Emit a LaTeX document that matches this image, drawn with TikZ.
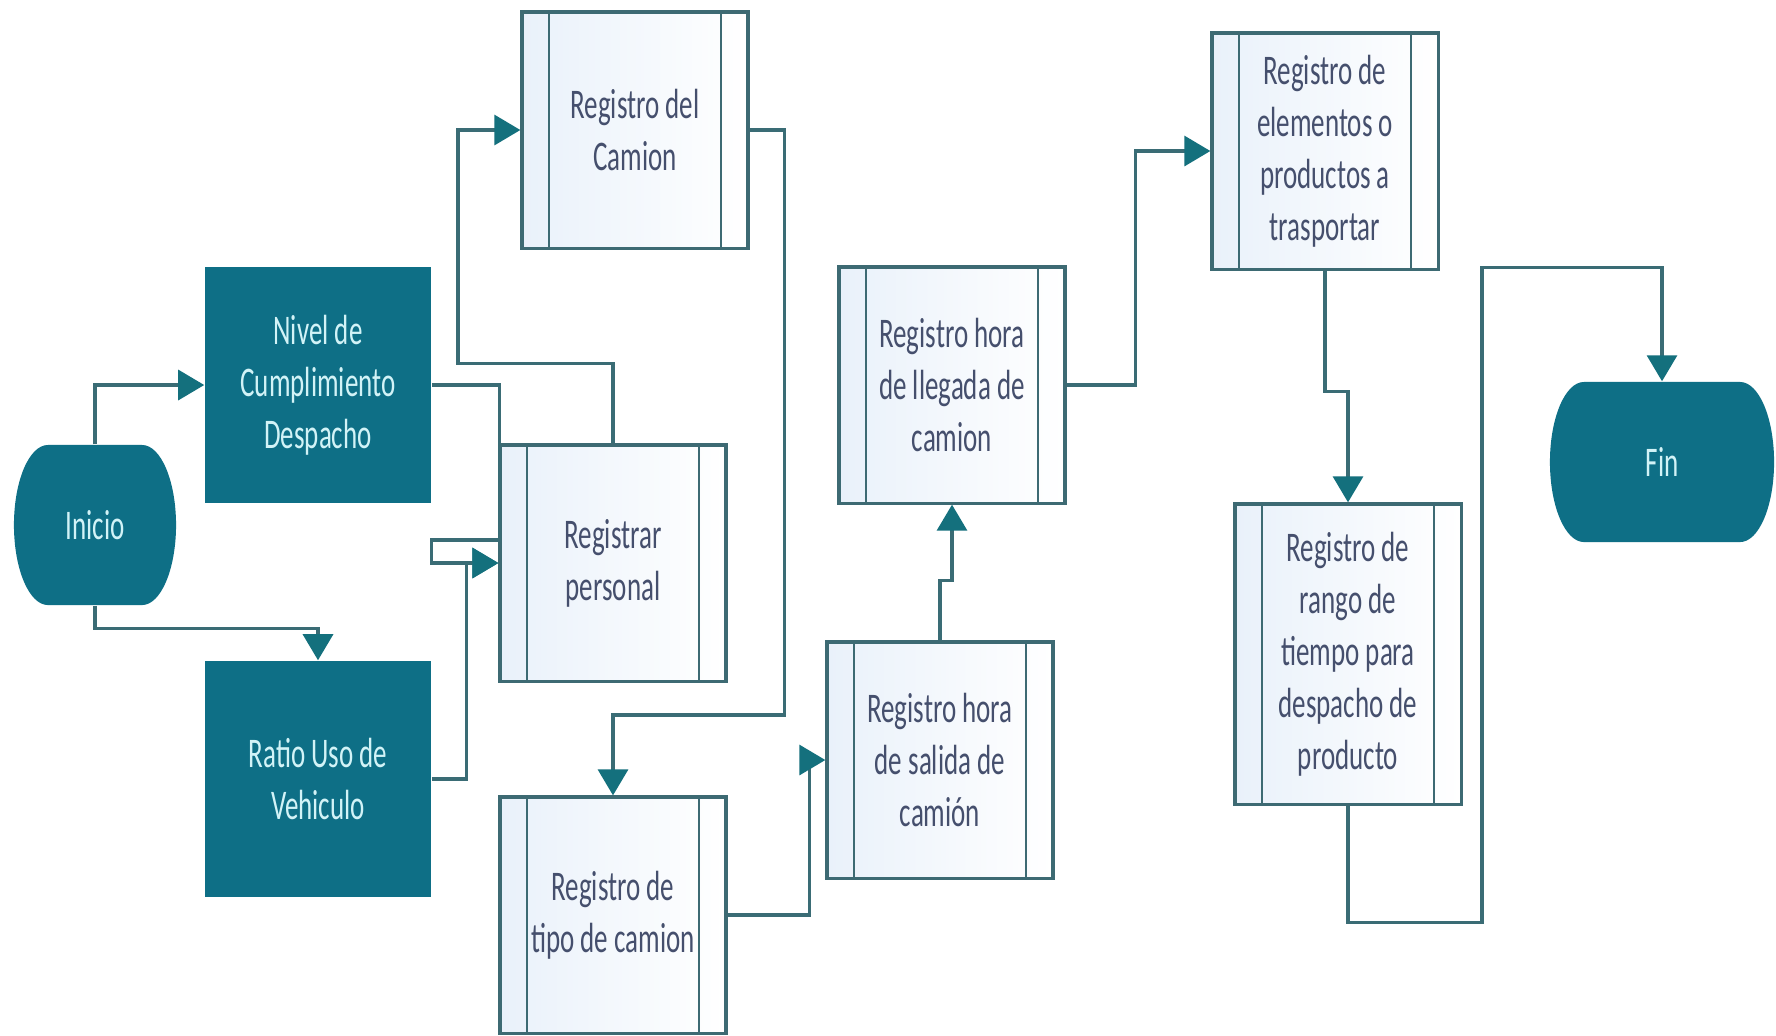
\documentclass[tikz,border=0pt]{standalone}
\usepackage{fontspec}
\setmainfont{Carlito}[FakeStretch=0.64]
\usepackage{xcolor}
\usetikzlibrary{arrows.meta, calc}

\definecolor{tealdark}{HTML}{0E6F86}
\definecolor{tealtext}{HTML}{D2F3F7}
\definecolor{procedge}{HTML}{3D6A73}
\definecolor{proctext}{HTML}{454F6D}
\definecolor{procleft}{HTML}{E9F1FA}
\definecolor{procright}{HTML}{FFFFFF}
\definecolor{linecol}{HTML}{3A6C75}
\definecolor{tipcol}{HTML}{14707D}

\begin{document}
\begin{tikzpicture}[
        x=0.01cm, y=-0.01cm,
        every node/.style={
            font=\fontsize{12}{14.8}\selectfont,
            align=center
        },
        proc/.style={
            draw=procedge,
            line width=0.9pt,
            left color=procleft,
            right color=procright,
            text=proctext,
            minimum width=2.26cm,
            minimum height=2.36cm,
            inner sep=0pt,
            path picture={
                \draw[procedge, line width=0.8pt]
                    ([xshift=0.27cm]path picture bounding box.north west)
                    -- ([xshift=0.27cm]path picture bounding box.south west);
                \draw[procedge, line width=0.8pt]
                    ([xshift=-0.27cm]path picture bounding box.north east)
                    -- ([xshift=-0.27cm]path picture bounding box.south east);
            }
        },
        indicator/.style={
            fill=tealdark,
            text=tealtext,
            minimum width=2.26cm,
            minimum height=2.36cm
        },
        terminal/.style={
            text=tealtext,
            minimum height=1.6cm,
            path picture={
                \fill[tealdark]
                    ([xshift=0.34cm]path picture bounding box.north west)
                    -- ([xshift=-0.34cm]path picture bounding box.north east)
                    arc[start angle=90, end angle=-90, x radius=0.34cm, y radius=0.8cm]
                    -- ([xshift=0.34cm]path picture bounding box.south west)
                    arc[start angle=270, end angle=90, x radius=0.34cm, y radius=0.8cm]
                    -- cycle;
            }
        },
        arrow/.style={
            -{Triangle[length=0.26cm, width=0.3cm, color=tipcol]},
            draw=linecol,
            line width=0.9pt
        }
    ]

    \fill[white] (0,0) rectangle (1776,1035);

    % Start and indicators
    \node[terminal, minimum width=1.62cm] (inicio) at (95,525) {Inicio};
    \node[indicator] (nivel) at (318,385) {Nivel de\\Cumplimiento\\Despacho};
    \node[indicator] (ratio) at (318,779) {Ratio Uso de\\Vehiculo};

    % Registration steps
    \node[proc] (camion) at (635,130) {Registro del\\Camion};
    \node[proc] (personal) at (613,563) {Registrar\\personal};
    \node[proc] (tipo) at (613,915) {Registro de\\tipo de camion};
    \node[proc] (salida) at (940,760) {Registro hora\\de salida de\\camión};
    \node[proc] (llegada) at (952,385) {Registro hora\\de llegada de\\camion};
    \node[proc] (elementos) at (1325,151) {Registro de\\elementos o\\productos a\\trasportar};
    \node[proc, minimum height=3.0cm] (rango) at (1348,654) {Registro de\\rango de\\tiempo para\\despacho de\\producto};

    % End
    \node[terminal, minimum width=2.24cm] (fin) at (1662,462) {Fin};

    % Connectors
    \draw[arrow] (inicio.north) |- (nivel.west);
    \draw[arrow] (inicio.south) -- ++(0,23) -| (ratio.north);
    \draw[arrow] (nivel.east) -- ++(68,0) -- ++(0,155) -- ++(-68,0) |- (personal.west);
    \draw[arrow] (ratio.east) -- ++(35,0) |- (personal.west);
    \draw[arrow] (personal.north) -- ++(0,-80) -- ++(-155,0) |- (camion.west);
    \draw[arrow] (camion.east) -- ++(35,0) -- ++(0,585) -| (tipo.north);
    \draw[arrow] (tipo.east) -- ++(82,0) |- (salida.west);
    \draw[arrow] (salida.north) -- ++(0,-60) -| (llegada.south);
    \draw[arrow] (llegada.east) -- ++(69,0) |- (elementos.west);
    \draw[arrow] (elementos.south) -- ++(0,121) -| (rango.north);
    \draw[arrow] (rango.south) -- ++(0,117) -- ++(134,0) -- ++(0,-655) -| (fin.north);

\end{tikzpicture}
\end{document}
